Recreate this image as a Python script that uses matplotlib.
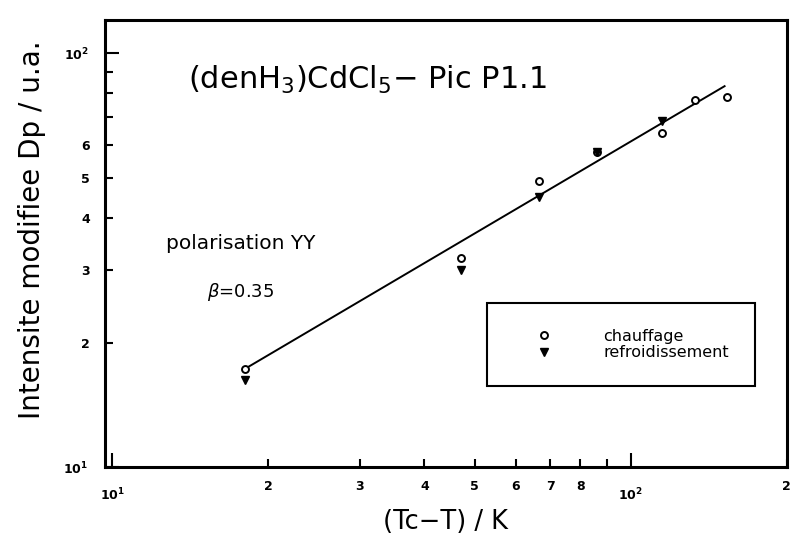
import matplotlib
matplotlib.use("Agg")
import matplotlib.pyplot as plt

# values (log-log)
x_chauffage = [18.0, 47.0, 66.5, 86.0, 114.7, 132.8, 153.1]
y_chauffage = [17.3, 32.0, 49.1, 57.7, 64.1, 76.9, 78.3]
x_refroid = [18.0, 47.0, 66.5, 86.0, 114.7]
y_refroid = [16.2, 29.9, 44.9, 57.7, 68.5]
# fitted power law, end points
fit_x = [18.2, 151.7]
fit_y = [17.4, 83.2]

x_major = [10, 100]
x_major_labels = [r'$\mathbf{10^1}$', r'$\mathbf{10^2}$']
x_minor = [20, 30, 40, 50, 60, 70, 80, 90, 200]
x_minor_labels = ['2', '3', '4', '5', '6', '7', '8', '', '2']
y_major = [10, 100]
y_major_labels = [r'$\mathbf{10^1}$', r'$\mathbf{10^2}$']
y_minor = [20, 30, 40, 50, 60, 70, 80, 90]
y_minor_labels = ['2', '3', '4', '5', '6', '', '', '']

plt.rcParams['font.family'] = ['DejaVu Sans']

fig = plt.figure(figsize=(7.9, 5.34), dpi=100)
ax = fig.add_axes([0.133, 0.125, 0.863, 0.837])
ax.set_xscale('log')
ax.set_yscale('log')
ax.set_xlim(9.69, 200)
ax.set_ylim(10, 120)

ax.plot(fit_x, fit_y, color='black', lw=1.4)
ax.plot(x_chauffage, y_chauffage, 'o', ms=5, mfc='white', mec='black', mew=1.4,
        ls='none', label='chauffage')
ax.plot(x_refroid, y_refroid, 'v', ms=6, color='black', ls='none',
        label='refroidissement')

for side in ['top', 'right', 'left', 'bottom']:
    ax.spines[side].set_linewidth(2.2)

ax.set_xticks(x_major)
ax.set_xticklabels(x_major_labels)
ax.set_xticks(x_minor, minor=True)
ax.set_xticklabels(x_minor_labels, minor=True)
ax.set_yticks(y_major)
ax.set_yticklabels(y_major_labels)
ax.set_yticks(y_minor, minor=True)
ax.set_yticklabels(y_minor_labels, minor=True)

ax.tick_params(which='both', direction='in', top=False, right=False,
               labelsize=9, width=1.5)
ax.tick_params(which='major', length=10)
ax.tick_params(which='minor', length=6)
ax.tick_params(axis='x', which='major', pad=14)
ax.tick_params(axis='x', which='minor', pad=9)
ax.tick_params(axis='y', which='major', pad=12)
ax.tick_params(axis='y', which='minor', pad=11)
for lab in ax.get_xticklabels(minor=True) + ax.get_yticklabels(minor=True):
    lab.set_fontweight('bold')

ax.set_xlabel('(Tc\u2212T) / K', fontsize=18.5, labelpad=4)
ax.set_ylabel('Intensite modifiee Dp / u.a.', fontsize=20)
ax.yaxis.set_label_coords(-0.086, 0.532)

ax.text(0.121, 0.866, '(denH$_3$)CdCl$_5$\u2212 Pic P1.1', transform=ax.transAxes,
        fontsize=22, ha='left', va='center')
ax.text(0.090, 0.501, 'polarisation YY', transform=ax.transAxes,
        fontsize=14.5, ha='left', va='center')
ax.text(0.150, 0.391, r'$\beta$=0.35', transform=ax.transAxes,
        fontsize=13, ha='left', va='center')

leg = ax.legend(loc='upper left', bbox_to_anchor=(0.56, 0.367), borderaxespad=0,
                fontsize=11.5, fancybox=False, framealpha=1, edgecolor='black',
                borderpad=1.6, handlelength=4.0, handletextpad=1.7,
                labelspacing=0.1, numpoints=1)
leg.get_frame().set_linewidth(1.5)

fig.savefig('out.png', dpi=100)
